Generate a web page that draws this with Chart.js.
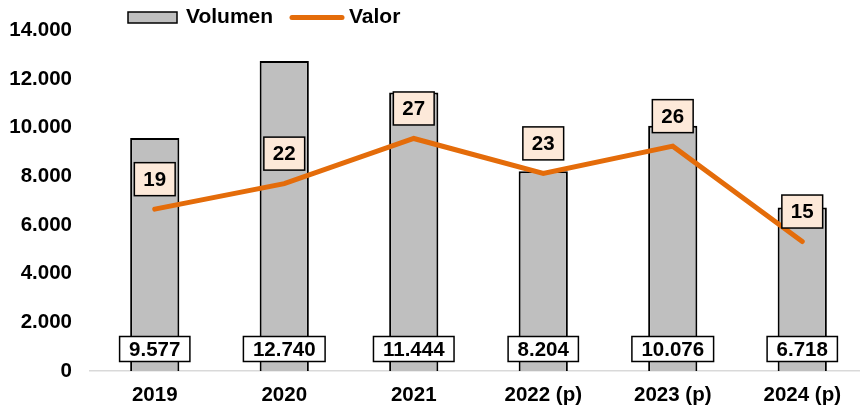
<!DOCTYPE html>
<html>
<head>
<meta charset="utf-8">
<script src="https://cdn.jsdelivr.net/npm/chart.js@4"></script>
<style>
  html, body { margin: 0; padding: 0; background: #fff; overflow: hidden; }
  canvas { display: block; }
</style>
</head>
<body>
<canvas id="c" width="868" height="412" style="width:868px;height:412px"></canvas>
<script>
const categories = ['2019', '2020', '2021', '2022 (p)', '2023 (p)', '2024 (p)'];
const volumen = [9577, 12740, 11444, 8204, 10076, 6718];
const valor = [19.0, 22.0, 27.3, 23.2, 26.4, 15.2];
const seriesNames = ['Volumen', 'Valor'];
const yTicks = [0, 2000, 4000, 6000, 8000, 10000, 12000, 14000];

const FONT = '"Liberation Sans", Arial, sans-serif';
const BAR_FILL = '#BFBFBF';
const LINE_COLOR = '#E46C0A';
const PEACH = '#FDE9D9';

function fmt(n) {
  return String(Math.round(n)).replace(/\B(?=(\d{3})+(?!\d))/g, '.');
}

function drawBox(ctx, text, cx, cy, padX, h, fill) {
  ctx.font = 'bold 20.5px ' + FONT;
  const w = ctx.measureText(text).width + padX * 2;
  ctx.fillStyle = fill;
  ctx.fillRect(cx - w / 2, cy - h / 2, w, h);
  ctx.lineWidth = 1.5;
  ctx.strokeStyle = '#000';
  ctx.strokeRect(cx - w / 2, cy - h / 2, w, h);
  ctx.fillStyle = '#000';
  ctx.textAlign = 'center';
  ctx.textBaseline = 'middle';
  ctx.fillText(text, cx, cy + 1);
}

const labelPlugin = {
  id: 'labels',
  afterDatasetsDraw(chart) {
    const ctx = chart.ctx;
    ctx.save();
    const area = chart.chartArea;
    const barMeta = chart.getDatasetMeta(1);
    barMeta.data.forEach((el, i) => {
      drawBox(ctx, fmt(volumen[i]), el.x, area.bottom - 22, 9.5, 25, '#fff');
    });
    const lineMeta = chart.getDatasetMeta(0);
    lineMeta.data.forEach((el, i) => {
      drawBox(ctx, fmt(valor[i]), el.x, el.y - 30, 9, 33, PEACH);
    });
    ctx.restore();
  }
};

const legendPlugin = {
  id: 'customLegend',
  afterDraw(chart) {
    const ctx = chart.ctx;
    ctx.save();
    const y = 17.5;
    ctx.fillStyle = BAR_FILL;
    ctx.fillRect(128, y - 5.5, 49, 11);
    ctx.lineWidth = 1.5;
    ctx.strokeStyle = '#000';
    ctx.strokeRect(128, y - 5.5, 49, 11);
    ctx.font = 'bold 21px ' + FONT;
    ctx.fillStyle = '#000';
    ctx.textAlign = 'left';
    ctx.textBaseline = 'middle';
    ctx.fillText(seriesNames[0], 186, y);
    ctx.strokeStyle = LINE_COLOR;
    ctx.lineWidth = 5;
    ctx.lineCap = 'round';
    ctx.beginPath();
    ctx.moveTo(292, y);
    ctx.lineTo(342, y);
    ctx.stroke();
    ctx.fillStyle = '#000';
    ctx.fillText(seriesNames[1], 349, y);
    ctx.restore();
  }
};

new Chart(document.getElementById('c'), {
  data: {
    labels: categories,
    datasets: [
      {
        type: 'line',
        label: seriesNames[1],
        data: valor,
        yAxisID: 'y1',
        borderColor: LINE_COLOR,
        backgroundColor: LINE_COLOR,
        borderWidth: 5,
        borderCapStyle: 'round',
        borderJoinStyle: 'miter',
        pointRadius: 0,
        tension: 0,
        order: 0
      },
      {
        type: 'bar',
        label: seriesNames[0],
        data: volumen,
        yAxisID: 'y',
        backgroundColor: BAR_FILL,
        borderColor: '#000',
        borderWidth: 2,
        barPercentage: 0.38,
        categoryPercentage: 1,
        order: 1
      }
    ]
  },
  options: {
    responsive: false,
    maintainAspectRatio: false,
    animation: false,
    devicePixelRatio: 1,
    layout: { padding: { top: 27, left: 10, right: 1, bottom: 5 } },
    plugins: {
      legend: { display: false },
      tooltip: { enabled: false }
    },
    scales: {
      x: {
        grid: { display: false, drawTicks: false },
        border: { display: true, color: '#D9D9D9', width: 1.5 },
        ticks: { color: '#000', padding: 12, maxRotation: 0, font: { family: FONT, size: 20.5, weight: 'bold' } },
        afterFit(scale) { scale.height = 36; }
      },
      y: {
        position: 'left',
        min: 0,
        max: 14000,
        afterBuildTicks(scale) { scale.ticks = yTicks.map(v => ({ value: v })); },
        grid: { display: false, drawTicks: false },
        border: { display: false },
        ticks: {
          color: '#000',
          padding: 18,
          font: { family: FONT, size: 20.5, weight: 'bold' },
          callback: v => fmt(v)
        },
        afterFit(scale) { scale.width = 80; }
      },
      y1: {
        position: 'right',
        display: false,
        min: 0,
        max: 40
      }
    }
  },
  plugins: [labelPlugin, legendPlugin]
});
</script>
</body>
</html>
